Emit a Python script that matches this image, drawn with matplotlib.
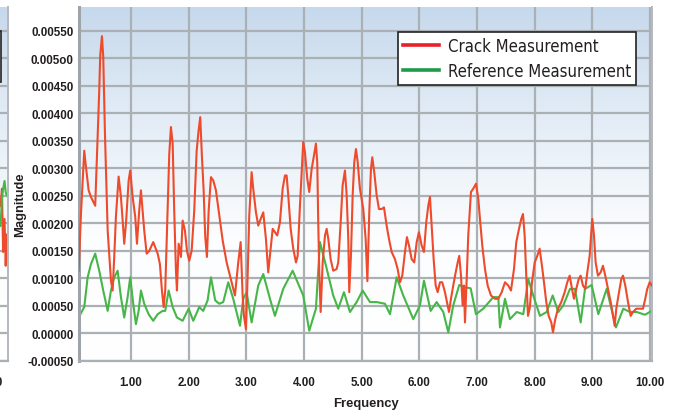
import numpy as np
import matplotlib
matplotlib.use("Agg")
import matplotlib.pyplot as plt
from matplotlib.colors import LinearSegmentedColormap
from matplotlib.patches import Rectangle

# crack measurement (red)
red_freq = [0.094, 0.134, 0.191, 0.22, 0.267, 0.307, 0.381, 0.411, 0.451, 0.468, 0.498, 0.520, 0.550, 0.597,
            0.654, 0.683, 0.711, 0.740, 0.787, 0.827, 0.857, 0.884, 0.914, 0.961, 0.988, 1.030, 1.075, 1.105,
            1.144, 1.174, 1.203, 1.231, 1.273, 1.318, 1.387, 1.464, 1.503, 1.538, 1.568, 1.595, 1.637, 1.665,
            1.694, 1.724, 1.751, 1.781, 1.798, 1.828, 1.868, 1.897, 1.937, 1.972, 2.011, 2.053, 2.098, 2.140,
            2.174, 2.202, 2.232, 2.261, 2.289, 2.318, 2.348, 2.388, 2.428, 2.474, 2.535, 2.591, 2.66, 2.804,
            2.861, 2.903, 2.937, 2.960, 2.995, 3.024, 3.052, 3.093, 3.121, 3.168, 3.208, 3.250, 3.295, 3.341,
            3.381, 3.423, 3.458, 3.497, 3.537, 3.584, 3.631, 3.671, 3.700, 3.728, 3.770, 3.815, 3.862, 3.891,
            3.931, 3.960, 3.988, 4.018, 4.058, 4.092, 4.134, 4.174, 4.208, 4.231, 4.248, 4.266, 4.290, 4.325,
            4.365, 4.394, 4.422, 4.463, 4.508, 4.567, 4.595, 4.637, 4.671, 4.711, 4.741, 4.769, 4.786, 4.815,
            4.845, 4.873, 4.902, 4.932, 4.971, 5.029, 5.070, 5.10, 5.133, 5.162, 5.185, 5.219, 5.261, 5.301,
            5.348, 5.388, 5.434, 5.474, 5.521, 5.578, 5.625, 5.665, 5.705, 5.752, 5.786, 5.821, 5.868, 5.913,
            5.955, 5.994, 6.041, 6.081, 6.121, 6.156, 6.185, 6.215, 6.249, 6.284, 6.319, 6.359, 6.398, 6.445,
            6.492, 6.515, 6.549, 6.589, 6.631, 6.666, 6.693, 6.723, 6.752, 6.775, 6.792, 6.822, 6.849, 6.896,
            6.936, 6.983, 7.023, 7.052, 7.092, 7.139, 7.186, 7.243, 7.312, 7.370, 7.429, 7.486, 7.543, 7.590,
            7.642, 7.682, 7.729, 7.768, 7.798, 7.827, 7.855, 7.885, 7.914, 7.954, 8.001, 8.046, 8.087, 8.127,
            8.162, 8.202, 8.243, 8.289, 8.318, 8.358, 8.405, 8.462, 8.521, 8.566, 8.608, 8.648, 8.682, 8.722,
            8.764, 8.798, 8.838, 8.878, 8.913, 8.954, 8.982, 9.000, 9.029, 9.058, 9.098, 9.145, 9.185, 9.225,
            9.272, 9.319, 9.359, 9.388, 9.416, 9.463, 9.503, 9.532, 9.572, 9.619, 9.665, 9.705, 9.762, 9.821,
            9.879, 9.918, 9.953, 9.995, 10.035]
red_mag = [0.00114, 0.00217, 0.00332, 0.00303, 0.0026, 0.00248, 0.00232, 0.00321, 0.00441, 0.00505, 0.0054,
           0.00503, 0.00363, 0.00187, 0.00096, 0.00078, 0.00139, 0.00212, 0.00285, 0.00248, 0.00205, 0.00163,
           0.00199, 0.00278, 0.00296, 0.00248, 0.00212, 0.00163, 0.00223, 0.0026, 0.00223, 0.00187, 0.00145,
           0.0015, 0.00166, 0.00145, 0.00126, 0.00078, 0.00048, 0.00078, 0.00223, 0.00326, 0.00375, 0.00345,
           0.00223, 0.00114, 0.00078, 0.00163, 0.00139, 0.00205, 0.00187, 0.0015, 0.00132, 0.0015, 0.00223,
           0.00332, 0.00369, 0.00393, 0.0032, 0.0026, 0.00175, 0.00139, 0.00223, 0.00284, 0.00278, 0.0026,
           0.00212, 0.00169, 0.00129, 0.00069, 0.00129, 0.00166, 0.00069, 0.00032, 0.00008, 0.00105, 0.00214,
           0.00293, 0.00263, 0.0022, 0.00196, 0.00208, 0.0022, 0.00172, 0.00111, 0.00154, 0.0019, 0.00184,
           0.00178, 0.00202, 0.00263, 0.00287, 0.00287, 0.00251, 0.0019, 0.00154, 0.00129, 0.00141, 0.00232,
           0.00293, 0.00348, 0.00329, 0.00281, 0.00257, 0.00299, 0.00323, 0.00345, 0.00311, 0.00202, 0.00111,
           0.00039, 0.00129, 0.00178, 0.0019, 0.00172, 0.00135, 0.00114, 0.00117, 0.00129, 0.00202, 0.00269,
           0.00296, 0.00251, 0.00172, 0.00075, 0.00141, 0.00251, 0.00311, 0.00335, 0.00311, 0.00263, 0.00226,
           0.00172, 0.00095, 0.0022, 0.00299, 0.0032, 0.00293, 0.00251, 0.00226, 0.00226, 0.00229, 0.00196,
           0.00172, 0.00148, 0.00135, 0.00117, 0.00093, 0.00105, 0.00148, 0.00175, 0.0016, 0.00135, 0.00129,
           0.00166, 0.00184, 0.0016, 0.00148, 0.00202, 0.00232, 0.00248, 0.00196, 0.00135, 0.00087, 0.00075,
           0.00093, 0.00093, 0.00075, 0.00051, 0.00039, 0.00063, 0.00087, 0.00111, 0.00129, 0.00141, 0.00105,
           0.00051, 0.00087, 0.0002, 0.00099, 0.00178, 0.00257, 0.00263, 0.00272, 0.00245, 0.00208, 0.0016,
           0.00117, 0.00087, 0.00069, 0.00063, 0.00063, 0.00075, 0.00093, 0.00087, 0.00078, 0.00117, 0.00166,
           0.0019, 0.00208, 0.00217, 0.00178, 0.00105, 0.00032, 0.00045, 0.00093, 0.00129, 0.00141, 0.00154,
           0.00123, 0.00093, 0.00057, 0.00032, 0.0002, 0.00002, 0.00026, 0.00045, 0.00057, 0.00075, 0.00093,
           0.00105, 0.00081, 0.00063, 0.00081, 0.00099, 0.00105, 0.00087, 0.00081, 0.00111, 0.00141, 0.00184,
           0.00208, 0.00178, 0.00129, 0.00105, 0.00111, 0.00123, 0.00105, 0.00081, 0.00057, 0.00032, 0.00014,
           0.00045, 0.00075, 0.00099, 0.00105, 0.00087, 0.00057, 0.00032, 0.00039, 0.00045, 0.00045, 0.00045,
           0.00063, 0.00081, 0.00093, 0.00087]

# reference measurement (green)
green_freq = [0.094, 0.191, 0.25, 0.307, 0.381, 0.451, 0.520, 0.597, 0.654, 0.711, 0.770, 0.827, 0.884, 0.943,
              0.988, 1.040, 1.087, 1.134, 1.174, 1.231, 1.307, 1.387, 1.464, 1.550, 1.595, 1.654, 1.724, 1.798,
              1.897, 2.001, 2.081, 2.185, 2.254, 2.330, 2.388, 2.462, 2.532, 2.601, 2.688, 2.774, 2.891, 2.948,
              3.007, 3.093, 3.208, 3.295, 3.411, 3.497, 3.641, 3.804, 3.988, 4.092, 4.208, 4.278, 4.382, 4.508,
              4.595, 4.694, 4.798, 4.914, 5.018, 5.145, 5.261, 5.405, 5.492, 5.608, 5.722, 5.896, 6.012, 6.081,
              6.197, 6.301, 6.416, 6.503, 6.589, 6.693, 6.792, 6.891, 6.983, 7.109, 7.283, 7.370, 7.399, 7.486,
              7.572, 7.689, 7.803, 7.890, 7.976, 8.092, 8.209, 8.313, 8.410, 8.497, 8.613, 8.700, 8.798, 8.873,
              8.989, 9.104, 9.249, 9.410, 9.537, 9.653, 9.769, 9.913, 10.03]
green_mag = [0.00029, 0.00048, 0.00102, 0.00126, 0.00145, 0.00114, 0.00078, 0.00041, 0.00078, 0.00102, 0.00114,
             0.00066, 0.00029, 0.00066, 0.00102, 0.00054, 0.00017, 0.00041, 0.00078, 0.00054, 0.00035, 0.00023,
             0.00035, 0.00041, 0.00041, 0.00078, 0.00048, 0.00029, 0.00023, 0.00045, 0.00023, 0.00048, 0.00041,
             0.0006, 0.00102, 0.0006, 0.00054, 0.00057, 0.00093, 0.00063, 0.00014, 0.00063, 0.00075, 0.0002,
             0.00087, 0.00108, 0.00063, 0.00032, 0.00081, 0.00114, 0.00069, 0.00005, 0.00045, 0.00166, 0.00123,
             0.00069, 0.00045, 0.00075, 0.00039, 0.00057, 0.00078, 0.00057, 0.00057, 0.00054, 0.00035, 0.00102,
             0.00069, 0.00026, 0.00051, 0.00096, 0.00041, 0.00057, 0.00039, 0.00002, 0.00051, 0.00088, 0.00084,
             0.00082, 0.00035, 0.00045, 0.00066, 0.00066, 0.00011, 0.00063, 0.00026, 0.00039, 0.00035, 0.00099,
             0.00069, 0.00032, 0.00039, 0.00069, 0.00039, 0.00051, 0.00081, 0.00081, 0.0002, 0.00081, 0.00088,
             0.00035, 0.00081, 0.00011, 0.00045, 0.00039, 0.00039, 0.00034, 0.00041]

# tail of the neighbouring (cropped) chart on the left edge
side_freq = [10.20, 10.22, 10.245, 10.265, 10.29, 10.31, 10.33, 10.35]
side_red = [0.0023, 0.00232, 0.00263, 0.00148, 0.00208, 0.00123, 0.0018, 0.0016]
side_green = [0.002, 0.00195, 0.00245, 0.00262, 0.00277, 0.00257, 0.0025, 0.0025]

y_ticks = [-0.0005, 0.0, 0.0005, 0.001, 0.0015, 0.002, 0.0025, 0.003, 0.0035, 0.004, 0.0045, 0.005, 0.0055]
y_labels = ['-0.00050', '0.00000', '0.00050', '0.00100', '0.00150', '0.00200', '0.00250', '0.00300',
            '0.00350', '0.00400', '0.00450', '0.005o0', '0.00550']
x_ticks = [1, 2, 3, 4, 5, 6, 7, 8, 9, 10]
x_labels = ['1.00', '2.00', '3.00', '4.00', '5.00', '6.00', '7.00', '8.00', '9.00', '10.00']

plain = ['Liberation Sans', 'DejaVu Sans']
txt_col = '#231f20'
grid_col = '#abb0b5'

bg = LinearSegmentedColormap.from_list('bg', [(0, '#ffffff'), (0.35, '#fcfdfe'),
                                              (0.7, '#e2ecf6'), (1, '#c6d9ec')])

fig = plt.figure(figsize=(6.73, 4.14), dpi=100)
W, H = 673, 414


def base_axes(left_px):
    a = fig.add_axes([left_px / W, 52 / H, 573 / W, 354 / H])
    a.imshow(np.linspace(0, 1, 256).reshape(-1, 1), cmap=bg, extent=[0, 1, 0, 1],
             transform=a.transAxes, aspect='auto', origin='lower', zorder=0)
    a.set_yticks(y_ticks)
    a.grid(True, color=grid_col, lw=1.6)
    a.set_axisbelow(True)
    a.tick_params(length=0)
    a.spines['top'].set_visible(False)
    a.spines['left'].set_color('#9ea4aa')
    a.spines['left'].set_linewidth(2.2)
    a.spines['bottom'].set_color(grid_col)
    a.spines['bottom'].set_linewidth(1.6)
    a.spines['right'].set_color('#b4b9be')
    a.spines['right'].set_linewidth(1.4)
    return a


# cropped neighbour panel
ax2 = base_axes(8 - 573)
ax2.plot(side_freq, side_red, color='#ee4a2c', lw=1.5)
ax2.plot(side_freq, side_green, color='#47b649', lw=1.5)
ax2.set_xlim(10.35 - 573 / 57.67, 10.35)
ax2.set_ylim(-0.0005, 0.00593)
ax2.set_xticks([10])
ax2.set_xticklabels(['10.00'], family=plain, weight='bold', fontsize=8.4, color=txt_col)
ax2.set_yticklabels([])
ax2.tick_params(axis='x', pad=11)
ax2.add_patch(Rectangle((0.7, 0.788), 0.2878, 0.144, transform=ax2.transAxes,
                        facecolor='white', edgecolor='#222222', lw=1.2, zorder=5))

# main panel
ax = base_axes(79)
ax.plot(red_freq, red_mag, color='#ee4a2c', lw=1.5, label='Crack Measurement', zorder=3)
ax.plot(green_freq, green_mag, color='#47b649', lw=1.5, label='Reference Measurement', zorder=2)
ax.set_xlim(0.1, 10.035)
ax.set_ylim(-0.0005, 0.00593)
ax.set_xticks(x_ticks)
ax.set_xticklabels(x_labels, family=plain, weight='bold', fontsize=8.4, color=txt_col)
ax.set_yticklabels(y_labels, family=plain, weight='bold', fontsize=8.4, color=txt_col)
ax.tick_params(axis='x', pad=11)
ax.tick_params(axis='y', pad=4)

leg = ax.legend(loc='upper right', bbox_to_anchor=(636 / W, 1 - 33 / H), bbox_transform=fig.transFigure,
                borderaxespad=0, prop={'family': 'DejaVu Sans', 'stretch': 'condensed', 'size': 12},
                frameon=True, fancybox=False, framealpha=1, edgecolor='#222222', borderpad=0.3,
                labelspacing=0.42, handlelength=2.2, handletextpad=0.5)
leg.get_frame().set_linewidth(1.2)
for t in leg.get_texts():
    t.set_color(txt_col)
for h, c in zip(leg.get_lines(), ['#e8202a', '#1e9a48']):
    h.set_color(c)
    h.set_linewidth(2.6)

fig.text(365.5 / W, 1 - 404 / H, 'Frequency', family=plain, weight='bold', fontsize=9.4,
         color=txt_col, ha='center', va='center')
fig.text(20 / W, 1 - 205 / H, 'Magnitude', family=plain, weight='bold', fontsize=9.4,
         color=txt_col, ha='center', va='center', rotation=90)

fig.savefig('out.png', dpi=100)
